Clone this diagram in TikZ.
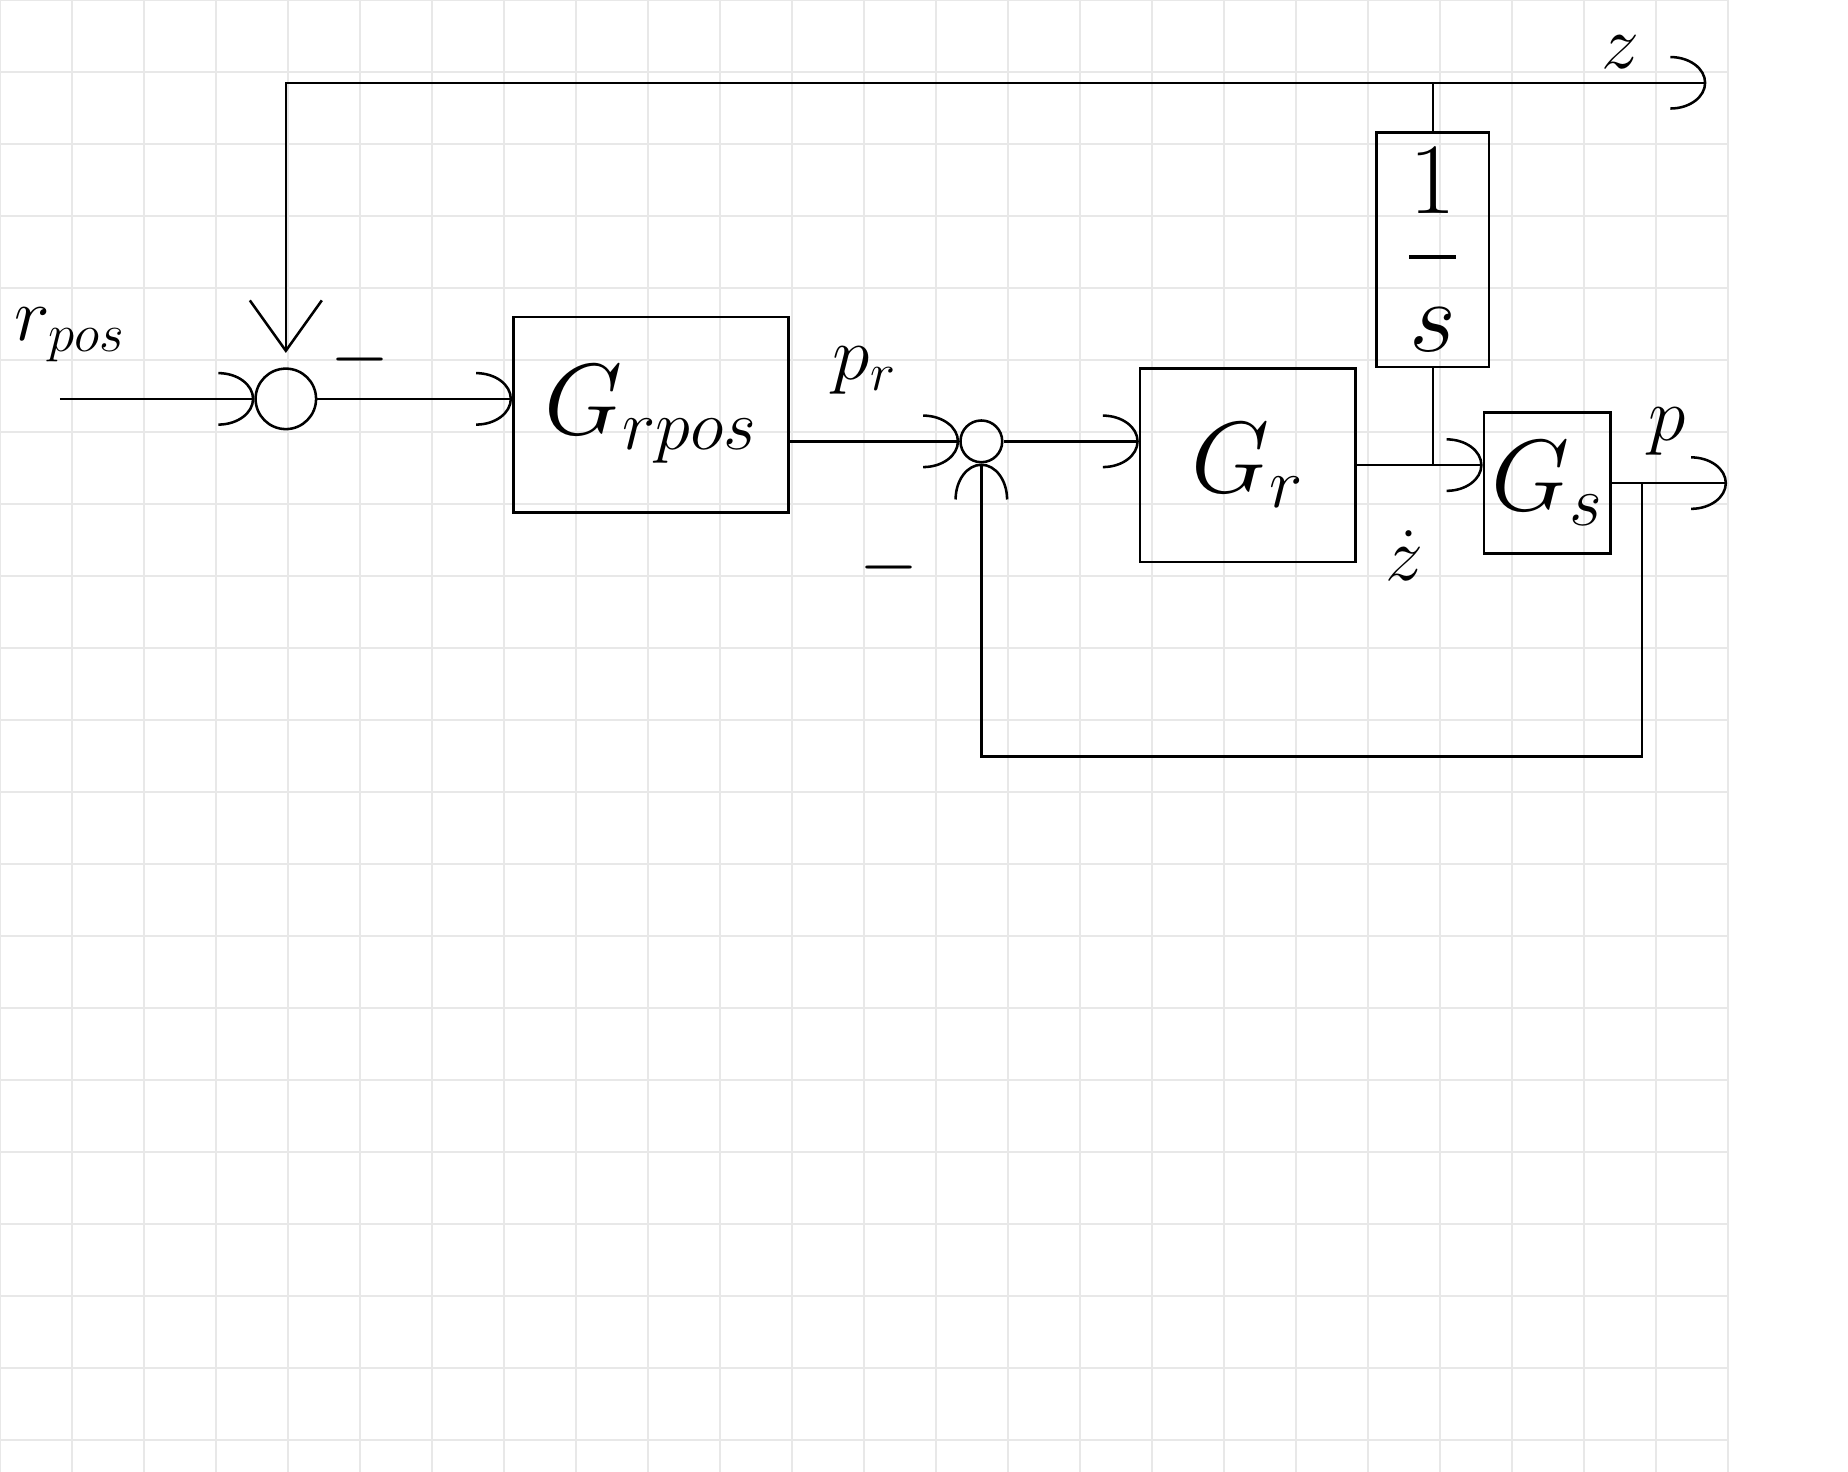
\RequirePackage{fix-cm}
\documentclass[tikz,border=0pt]{standalone}
\usepackage{amsmath,amssymb}
\usepackage{xcolor}
\usepackage{tikz}
\usetikzlibrary{arrows.meta,positioning,calc}
\definecolor{gridgray}{RGB}{232,232,232}

\begin{document}
\begin{tikzpicture}[
    sig/.style={line width=1pt},
    arr/.style={sig, -{Arc Barb[length=5mm, width=7.5mm]}},
    vee/.style={sig, -{Straight Barb[length=7mm, width=10mm]}},
    block/.style={draw, line width=1pt, inner sep=0pt, font=\fontsize{40}{44}\selectfont},
    sumnode/.style={draw, circle, line width=1pt, inner sep=0pt},
    lbl/.style={font=\fontsize{30}{34}\selectfont}
]
    \useasboundingbox (0,0) rectangle (25.667,-20.444);
    % grid paper
    \draw[gridgray, line width=1pt] (0,0) grid (24,-20.444);

    % blocks and summing points
    \node[sumnode, minimum size=0.84cm] (sum1) at (3.97,-5.54) {};
    \node[block, minimum width=3.82cm, minimum height=2.71cm] (grpos) at (9.04,-5.76) {$G_{rpos}$};
    \node[sumnode, minimum size=0.58cm] (sum2) at (13.63,-6.13) {};
    \node[block, minimum width=2.99cm, minimum height=2.69cm] (gr) at (17.33,-6.46) {$G_r$};
    \node[block, minimum width=1.56cm, minimum height=3.26cm] (integ) at (19.9,-3.47) {$\dfrac{1}{s}$};
    \node[block, minimum width=1.76cm, minimum height=1.96cm] (gs) at (21.49,-6.71) {$G_s$};

    % labels
    \node[lbl] (rpos) at (0.97,-4.65) {$r_{pos}$};
    \node[lbl] (minus1) at (5.0,-5.0) {$-$};
    \node[lbl] (pr) at (12.01,-5.14) {$p_r$};
    \node[lbl] (minus2) at (12.35,-7.88) {$-$};
    \node[lbl] (zdot) at (19.51,-7.72) {$\dot z$};
    \node[lbl] (zlab) at (22.51,-0.72) {$z$};
    \node[lbl] (plab) at (23.15,-6.0) {$p$};

    % signal points
    \coordinate (in) at (0.83,-5.54);
    \coordinate (zout) at (23.7,-1.15);
    \coordinate (top) at (integ.north |- zout);
    \coordinate (corner) at (sum1 |- zout);
    \coordinate (ztap) at (integ.south |- gr.east);
    \coordinate[right=1.6cm of gs.east] (pout);
    \coordinate[right=0.42cm of gs.east] (ptap);
    \coordinate[below=3.8cm of ptap] (fbr);

    % forward path
    \draw[arr] (in) -- (sum1);
    \draw[arr] (sum1) -- (sum1 -| grpos.west);
    \draw[arr] (grpos.east |- sum2) -- (sum2);
    \draw[arr] (sum2) -- (sum2 -| gr.west);
    \draw[arr] (gr.east) -- (gr.east -| gs.west);
    \draw[arr] (gs.east) -- (pout);

    % integrator and outer loop
    \draw[sig] (ztap) -- (integ.south);
    \draw[sig] (integ.north) -- (top);
    \draw[arr] (top) -- (zout);
    \draw[vee, shorten >=2mm] (top) -- (corner) -- (sum1);

    % inner loop
    \draw[arr] (ptap) -- (fbr) -| (sum2);
\end{tikzpicture}
\end{document}
